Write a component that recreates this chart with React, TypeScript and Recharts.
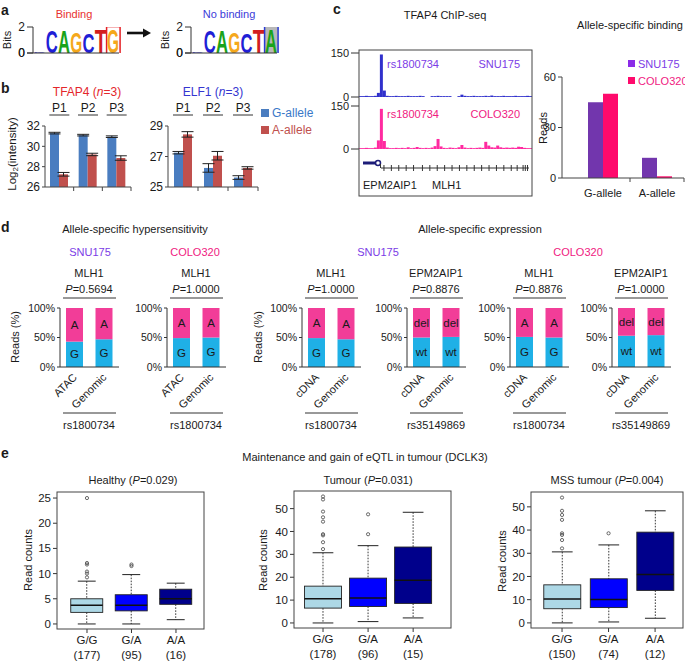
import React from 'react';
import { BarChart, Bar, XAxis, YAxis, ErrorBar, ComposedChart, Scatter, LabelList } from 'recharts';

const FONT = '"Liberation Sans", Arial, Helvetica, sans-serif';
const INK = '#1a1a1a';

// ---------- Panel a : sequence logos
const logoBindingLetters = ['C', 'C', 'A', 'G', 'C', 'T', 'G'];
const logoBindingBits = [0.1, 1.75, 1.72, 1.6, 1.5, 1.82, 1.8];
const logoNoBindingLetters = ['C', 'C', 'A', 'G', 'C', 'T', 'A'];
const logoNoBindingBits = [0.1, 1.75, 1.72, 1.6, 1.48, 1.82, 1.85];
const logoBitTicks = [0, 2];

// ---------- Panel b : probe intensities
const probeNames = ['P1', 'P2', 'P3'];
const tfap4G = [31.3, 31.1, 30.95];
const tfap4GErr = [0.08, 0.08, 0.08];
const tfap4A = [27.25, 29.2, 28.85];
const tfap4AErr = [0.18, 0.12, 0.22];
const elf1G = [27.25, 26.25, 25.62];
const elf1GErr = [0.08, 0.28, 0.12];
const elf1A = [28.45, 27.05, 26.25];
const elf1AErr = [0.18, 0.28, 0.08];
const tfap4Ticks = [26, 28, 30, 32];
const elf1Ticks = [25, 27, 29];

// ---------- Panel c : ChIP-seq tracks and allele-specific binding
const chipSnu175 = [3, 3, 4, 3, 3, 4, 14, 145, 22, 4, 3, 3, 4, 3, 3, 3, 4, 3, 3, 3, 4, 3, 0, 0, 3, 3, 4, 3, 3, 3, 3, 0, 0, 3, 8, 4, 3, 3, 4, 3, 3, 3, 4, 3, 5, 3, 3, 3, 4, 3, 3, 3, 4, 3, 3, 3, 4, 3];
const chipColo320 = [3, 3, 4, 3, 3, 5, 30, 140, 28, 5, 3, 3, 4, 3, 4, 3, 6, 3, 4, 7, 4, 3, 4, 3, 5, 10, 35, 9, 4, 3, 5, 4, 3, 6, 14, 5, 3, 4, 3, 4, 5, 4, 25, 12, 6, 5, 12, 6, 4, 5, 4, 5, 4, 8, 7, 4, 3, 3];
const chipTicks = [0, 150];
const mlh1Exons = [0.02, 0.07, 0.12, 0.17, 0.22, 0.28, 0.33, 0.38, 0.43, 0.48, 0.53, 0.58, 0.63, 0.68, 0.73, 0.78, 0.83, 0.88, 0.92, 0.96, 0.975, 0.99];
const asbAlleles = ['G-allele', 'A-allele'];
const asbSnu175 = [45, 12];
const asbColo320 = [50, 1];
const asbTicks = [0, 30, 60];

// ---------- Panel d : allele-specific hypersensitivity / expression
const dGenes = ['MLH1', 'MLH1', 'MLH1', 'EPM2AIP1', 'MLH1', 'EPM2AIP1'];
const dPvals = ['0.5694', '1.0000', '1.0000', '0.8876', '0.8876', '1.0000'];
const dSamples = [['ATAC', 'Genomic'], ['ATAC', 'Genomic'], ['cDNA', 'Genomic'], ['cDNA', 'Genomic'], ['cDNA', 'Genomic'], ['cDNA', 'Genomic']];
const dLowerPct = [[43, 47], [49, 50], [49, 47], [50, 51], [51, 50], [53, 54]];
const dLowerLabel = ['G', 'G', 'G', 'wt', 'G', 'wt'];
const dUpperLabel = ['A', 'A', 'A', 'del', 'A', 'del'];
const dSnps = ['rs1800734', 'rs1800734', 'rs1800734', 'rs35149869', 'rs1800734', 'rs35149869'];
const dPctTicks = [0, 50, 100];

// ---------- Panel e : eQTL boxplots
const genotypes = ['G/G', 'G/A', 'A/A'];
const healthyN = [177, 95, 16];
const healthyStats = [[0, 2.3, 3.7, 5.0, 8.5], [0, 2.6, 3.7, 5.8, 9.8], [0.85, 3.9, 5.0, 6.9, 8.1]];
const healthyOutliers = [[9.25, 10.0, 10.4, 11.8, 12.1, 25.0], [11.5, 11.8], []];
const healthyTicks = [0, 5, 10, 15, 20, 25];
const tumourN = [178, 96, 15];
const tumourStats = [[0, 6.5, 10.6, 16.1, 30.7], [0.6, 7.2, 10.9, 19.6, 33.8], [2.2, 8.55, 18.7, 33.2, 48.4]];
const tumourOutliers = [[32.3, 35.3, 38.3, 38.8, 44.3, 46.2, 48.7, 54.0, 55.3], [38.8, 47.5], []];
const mssN = [150, 74, 12];
const mssStats = [[0, 6.1, 10.3, 16.4, 30.6], [0.4, 6.6, 10.1, 19.0, 33.6], [2.0, 14.0, 20.9, 39.1, 48.3]];
const mssOutliers = [[32.1, 35.7, 37.9, 38.6, 44.4, 46.5, 48.3, 54.0], [38.6], []];
const tumourTicks = [0, 10, 20, 30, 40, 50];

// ---------- colours
const LETTER_COLORS: Record<string, string> = { A: '#1aa31a', C: '#1f1fd6', G: '#f5a81c', T: '#d21f1f' };
const B_BLUE = '#4a7dc0';
const B_RED = '#c0504d';
const SNU_TXT = '#7b3ce6';
const SNU_BAR = '#7236ad';
const COLO_TXT = '#f0207f';
const COLO_BAR = '#ff0a6c';
const TRACK1 = '#3030cc';
const TRACK2 = '#ff2aa0';
const CYAN = '#1fb0e6';
const PINK = '#f23d98';
const BOX_COLORS = ['#add8e6', '#0000ff', '#00008b'];

// ---------- layout helper
const PAD = 4;
function frame(px: number, py: number, pw: number, ph: number, yw: number, xh: number, padTop: number = PAD) {
  return {
    style: { position: 'absolute', left: px - yw - PAD, top: py - padTop } as React.CSSProperties,
    width: pw + yw + 2 * PAD,
    height: ph + xh + padTop + PAD,
    margin: { top: padTop, right: PAD, bottom: PAD, left: PAD },
  };
}

const Txt = ({ x, y, children, anchor = 'middle', size = 11, color = INK, weight = 'normal', rotate = 0 }: any) => (
  <text x={x} y={y} textAnchor={anchor} dominantBaseline="central" fontSize={size} fill={color}
    fontWeight={weight} fontFamily={FONT} transform={rotate ? `rotate(${rotate} ${x} ${y})` : undefined}>
    {children}
  </text>
);

// ---------- Panel a
const LOGO_TOP = 27;
const LOGO_H = 26;
const LOGO_X = [33, 191];

const LetterShape = (props: any) => {
  const { x, y, width, height, payload, boxFill, boxStroke } = props;
  const fs = Math.max(height, 0.5) / 0.72;
  return (
    <g>
      {payload.hl && (
        <rect x={x - 0.5} y={y - 3} width={width + 1.5} height={height + 4} fill={boxFill} stroke={boxStroke} strokeWidth={1.5} />
      )}
      <text x={x} y={y + height} fontSize={fs} textLength={width} lengthAdjust="spacingAndGlyphs"
        fill={LETTER_COLORS[payload.letter]} fontFamily={FONT} fontWeight="bold">{payload.letter}</text>
    </g>
  );
};

const BitsTick = (p: any) => (
  <text x={p.x} y={p.y} textAnchor="end" dominantBaseline="central" fontSize={12} fill={INK} fontFamily={FONT}>
    {String(p.payload.value)}
  </text>
);

function Logo({ letters, bits, px, boxFill, boxStroke }: any) {
  const data = letters.map((l: string, i: number) => ({ letter: l, bits: bits[i], hl: i === letters.length - 1 }));
  const f = frame(px, LOGO_TOP, 86, LOGO_H, 26, 10, 12);
  return (
    <div style={f.style}>
      <BarChart width={f.width} height={f.height} margin={f.margin} data={data} barCategoryGap="3%">
        <XAxis dataKey="letter" tick={false} tickLine={false} height={10} axisLine={{ stroke: '#333' }} />
        <YAxis type="number" domain={[0, 2]} ticks={logoBitTicks} interval={0} allowDataOverflow width={26} tickSize={6} tickMargin={2}
          tick={BitsTick} axisLine={{ stroke: '#333' }} tickLine={{ stroke: '#333' }} />
        <Bar dataKey="bits" isAnimationActive={false}
          shape={(p: any) => <LetterShape {...p} boxFill={boxFill} boxStroke={boxStroke} />} />
      </BarChart>
    </div>
  );
}

// ---------- Panel b
const B_TOP = 126;
const B_H = 61;
const B1 = { px: 45, pw: 86 };
const B2 = { px: 168, pw: 90 };

function ProbeChart({ g, gErr, a, aErr, ticks, px, pw }: any) {
  const data = probeNames.map((n, i) => ({ name: n, g: g[i], gErr: gErr[i], a: a[i], aErr: aErr[i] }));
  const f = frame(px, B_TOP, pw, B_H, 30, 6, 8);
  const step = pw / probeNames.length;
  return (
    <div style={f.style}>
      <BarChart width={f.width} height={f.height} margin={f.margin} data={data} barGap={0} barSize={9}>
        <XAxis dataKey="name" interval={0} tickLine={false} tickSize={0} tickMargin={0} height={6}
          axisLine={{ stroke: '#444' }}
          tick={(p: any) => <line x1={p.x + step / 2} x2={p.x + step / 2} y1={p.y} y2={p.y + 4} stroke="#444" />} />
        <YAxis domain={[ticks[0], ticks[ticks.length - 1]]} ticks={ticks} interval={0} allowDataOverflow width={30}
          tickSize={3} tickMargin={2} tick={{ fontSize: 12, fill: INK }} axisLine={{ stroke: '#444' }} tickLine={{ stroke: '#444' }} />
        <Bar dataKey="g" fill={B_BLUE} isAnimationActive={false}>
          <ErrorBar dataKey="gErr" width={6} stroke="#222" strokeWidth={1} />
        </Bar>
        <Bar dataKey="a" fill={B_RED} isAnimationActive={false}>
          <ErrorBar dataKey="aErr" width={6} stroke="#222" strokeWidth={1} />
        </Bar>
      </BarChart>
    </div>
  );
}

// ---------- Panel c
const CHIP_X = 359;
const CHIP_W = 173;

function ChipTrack({ values, color, py, ph }: any) {
  const data = values.map((v: number, i: number) => ({ bin: i, v }));
  const f = frame(CHIP_X, py, CHIP_W, ph, 32, 0, 8);
  return (
    <div style={f.style}>
      <BarChart width={f.width} height={f.height} margin={f.margin} data={data} barCategoryGap={0}>
        <XAxis dataKey="bin" hide />
        <YAxis domain={[0, 150]} ticks={chipTicks} interval={0} allowDataOverflow width={32} tickSize={8} tickMargin={2}
          axisLine={false} tickLine={{ stroke: '#333' }} tick={{ fontSize: 11, fill: INK }} />
        <Bar dataKey="v" fill={color} isAnimationActive={false} />
      </BarChart>
    </div>
  );
}

const ASB = { px: 562, py: 77, pw: 122, ph: 101, padL: 14 };

function AsbChart() {
  const data = asbAlleles.map((n, i) => ({ name: n, snu: asbSnu175[i], colo: asbColo320[i] }));
  const f = frame(ASB.px, ASB.py, ASB.pw, ASB.ph, 30, 24, 8);
  const step = (ASB.pw - ASB.padL) / asbAlleles.length;
  return (
    <div style={f.style}>
      <BarChart width={f.width} height={f.height} margin={f.margin} data={data} barGap={0} barSize={15}>
        <XAxis dataKey="name" interval={0} padding={{ left: ASB.padL, right: 0 }} tickLine={false} tickSize={0} tickMargin={0}
          height={24} axisLine={{ stroke: '#444' }}
          tick={(p: any) => (
            <g>
              <line x1={p.x + step / 2} x2={p.x + step / 2} y1={p.y} y2={p.y + 4} stroke="#444" />
              <text x={p.x} y={p.y + 15} textAnchor="middle" dominantBaseline="central" fontSize={11} fill={INK} fontFamily={FONT}>{p.payload.value}</text>
            </g>
          )} />
        <YAxis domain={[0, 60]} ticks={asbTicks} interval={0} width={30} tickSize={4} tickMargin={2}
          tick={{ fontSize: 11, fill: INK }} axisLine={{ stroke: '#444' }} tickLine={{ stroke: '#444' }} />
        <Bar dataKey="snu" fill={SNU_BAR} isAnimationActive={false} />
        <Bar dataKey="colo" fill={COLO_BAR} isAnimationActive={false} />
      </BarChart>
    </div>
  );
}

// ---------- Panel d
const D_AXIS_X = [60, 167, 302, 407, 510, 612];
const D_TOP = 308;
const D_H = 59;
const D_W = 59;

const RotTick = (p: any) => {
  const ax = p.x + 3;
  const ay = p.y + 11;
  return (
    <text x={ax} y={ay} transform={`rotate(-45 ${ax} ${ay})`} textAnchor="end" fontSize={11} fill={INK} fontFamily={FONT}>
      {p.payload.value}
    </text>
  );
};

function AlleleChart({ i }: { i: number }) {
  const data = dSamples[i].map((s, j) => ({
    s, lo: dLowerPct[i][j], hi: 100 - dLowerPct[i][j], loLab: dLowerLabel[i], hiLab: dUpperLabel[i],
  }));
  const f = frame(D_AXIS_X[i], D_TOP, D_W, D_H, 38, 45, 8);
  return (
    <div style={f.style}>
      <BarChart width={f.width} height={f.height} margin={f.margin} data={data} barSize={17}>
        <XAxis dataKey="s" interval={0} tickLine={false} tickSize={0} tickMargin={0} height={45}
          axisLine={{ stroke: '#333' }} tick={RotTick} />
        <YAxis domain={[0, 100]} ticks={dPctTicks} interval={0} tickFormatter={(v: number) => `${v}%`} width={38}
          tickSize={3} tickMargin={2} tick={{ fontSize: 10.5, fill: INK }} axisLine={{ stroke: '#333' }} tickLine={{ stroke: '#333' }} />
        <Bar dataKey="lo" stackId="s" fill={CYAN} isAnimationActive={false}>
          <LabelList dataKey="loLab" position="center" fill={INK} fontSize={11.5} />
        </Bar>
        <Bar dataKey="hi" stackId="s" fill={PINK} isAnimationActive={false}>
          <LabelList dataKey="hiLab" position="center" fill={INK} fontSize={11.5} />
        </Bar>
      </BarChart>
    </div>
  );
}

// ---------- Panel e
const BoxShape = (props: any) => {
  const { x, y, width, height, payload } = props;
  const [lo, q1, med, q3, hi] = payload.stats;
  const pos = (v: number) => y + ((hi - v) / (hi - lo)) * height;
  const cx = x + width / 2;
  const cap = width * 0.28;
  return (
    <g>
      <line x1={cx} x2={cx} y1={pos(hi)} y2={pos(q3)} stroke="#222" strokeWidth={0.9} strokeDasharray="1.6 1.4" />
      <line x1={cx} x2={cx} y1={pos(q1)} y2={pos(lo)} stroke="#222" strokeWidth={0.9} strokeDasharray="1.6 1.4" />
      <line x1={cx - cap} x2={cx + cap} y1={pos(hi)} y2={pos(hi)} stroke="#222" strokeWidth={1} />
      <line x1={cx - cap} x2={cx + cap} y1={pos(lo)} y2={pos(lo)} stroke="#222" strokeWidth={1} />
      <rect x={x} y={pos(q3)} width={width} height={pos(q1) - pos(q3)} fill={payload.fill} stroke="#222" strokeWidth={0.9} />
      <line x1={x} x2={x + width} y1={pos(med)} y2={pos(med)} stroke="#111" strokeWidth={1.5} />
    </g>
  );
};

const OutlierShape = (p: any) => <circle cx={p.cx} cy={p.cy} r={1.6} fill="none" stroke="#444" strokeWidth={0.8} />;

const E_PLOTS = [
  { px: 57, py: 492, pw: 147, ph: 137, yDom: [-1.0, 26.2], xDom: [0.326, 3.63], box: 32 },
  { px: 294, py: 491, pw: 157, ph: 137, yDom: [-2.2, 57.7], xDom: [0.356, 3.84], box: 37 },
  { px: 531, py: 492, pw: 152, ph: 136, yDom: [-2.2, 56.4], xDom: [0.333, 3.6], box: 37 },
];

function BoxPlot({ k, stats, outliers, ns, ticks }: any) {
  const L = E_PLOTS[k];
  const data = genotypes.map((g, i) => ({ x: i + 1, range: [stats[i][0], stats[i][4]], stats: stats[i], fill: BOX_COLORS[i] }));
  const pts = outliers.flatMap((arr: number[], i: number) => arr.map((v) => ({ x: i + 1, y: v })));
  const f = frame(L.px, L.py, L.pw, L.ph, 30, 34, 4);
  return (
    <div style={f.style}>
      <ComposedChart width={f.width} height={f.height} margin={f.margin} data={data}>
        <XAxis type="number" dataKey="x" domain={L.xDom} ticks={[1, 2, 3]} interval={0} allowDataOverflow axisLine={false}
          tickLine={{ stroke: '#333' }} tickSize={4} tickMargin={0} height={34}
          tick={(p: any) => (
            <g>
              <text x={p.x} y={p.y + 7} textAnchor="middle" dominantBaseline="central" fontSize={11.5} fill={INK} fontFamily={FONT}>{genotypes[p.payload.value - 1]}</text>
              <text x={p.x} y={p.y + 22} textAnchor="middle" dominantBaseline="central" fontSize={11.5} fill={INK} fontFamily={FONT}>({ns[p.payload.value - 1]})</text>
            </g>
          )} />
        <YAxis type="number" domain={L.yDom} ticks={ticks} interval={0} allowDataOverflow axisLine={false} tickSize={4} tickMargin={2}
          width={30} tick={{ fontSize: 11.5, fill: INK }} tickLine={{ stroke: '#333' }} />
        <Bar dataKey="range" barSize={L.box} isAnimationActive={false} shape={BoxShape} />
        <Scatter data={pts} dataKey="y" isAnimationActive={false} shape={OutlierShape} />
      </ComposedChart>
    </div>
  );
}

// ---------- overlay texts
function Overlay() {
  const bCenters = (c: { px: number; pw: number }) => probeNames.map((_, i) => c.px + ((i + 0.5) * c.pw) / probeNames.length);
  const exonY = 168;
  const mlhX0 = 381;
  const mlhX1 = 529;
  const logoBase = LOGO_TOP + LOGO_H;
  return (
    <svg width={685} height={661} style={{ position: 'absolute', left: 0, top: 0, pointerEvents: 'none' }}>
      {/* panel letters */}
      <Txt x={1} y={10} anchor="start" size={14} weight="bold">a</Txt>
      <Txt x={1} y={88} anchor="start" size={14} weight="bold">b</Txt>
      <Txt x={333} y={9} anchor="start" size={14} weight="bold">c</Txt>
      <Txt x={1} y={227} anchor="start" size={14} weight="bold">d</Txt>
      <Txt x={1} y={453} anchor="start" size={14} weight="bold">e</Txt>

      {/* panel a */}
      <Txt x={74} y={14} color="#e8312f">Binding</Txt>
      <Txt x={229} y={14} color="#3b3bd9">No binding</Txt>
      <Txt x={7} y={40} rotate={-90}>Bits</Txt>
      <Txt x={165} y={40} rotate={-90}>Bits</Txt>
      {LOGO_X.map((lx, i) => (
        <g key={`lz${i}`}>
          <line x1={lx - 6} x2={lx} y1={logoBase} y2={logoBase} stroke="#333" strokeWidth={1} />
          <Txt x={lx - 8} y={logoBase} anchor="end" size={12}>0</Txt>
        </g>
      ))}
      <line x1={127} x2={144} y1={33} y2={33} stroke="#111" strokeWidth={2.6} />
      <polygon points="143,28.5 151,33 143,37.5" fill="#111" />

      {/* panel b */}
      <text x={87} y={92} textAnchor="middle" dominantBaseline="central" fontSize={12} fill="#e4262b" fontFamily={FONT}>
        TFAP4 (<tspan fontStyle="italic">n</tspan>=3)
      </text>
      <text x={213} y={92} textAnchor="middle" dominantBaseline="central" fontSize={12} fill="#3535d0" fontFamily={FONT}>
        ELF1 (<tspan fontStyle="italic">n</tspan>=3)
      </text>
      {[...bCenters(B1), ...bCenters(B2)].map((cx, i) => (
        <g key={`p${i}`}>
          <Txt x={cx} y={108} size={12}>{probeNames[i % 3]}</Txt>
          <line x1={cx - 10} x2={cx + 10} y1={115} y2={115} stroke="#333" strokeWidth={1} />
        </g>
      ))}
      <text x={12} y={154} textAnchor="middle" dominantBaseline="central" fontSize={11.5} fill={INK} fontFamily={FONT}
        transform="rotate(-90 12 154)">
        Log<tspan fontSize={8} dy={3}>2</tspan><tspan dy={-3}>(intensity)</tspan>
      </text>
      <rect x={261} y={109} width={8} height={8} fill={B_BLUE} />
      <Txt x={272} y={113} anchor="start" size={12} color="#3a78c8">G-allele</Txt>
      <rect x={261} y={126} width={8} height={8} fill={B_RED} />
      <Txt x={272} y={130} anchor="start" size={12} color={B_RED}>A-allele</Txt>

      {/* panel c */}
      <Txt x={445} y={15}>TFAP4 ChIP-seq</Txt>
      <Txt x={630} y={25}>Allele-specific binding</Txt>
      <rect x={CHIP_X} y={50} width={CHIP_W} height={146} fill="none" stroke="#444" strokeWidth={1} />
      <Txt x={387} y={64} anchor="start" color={SNU_TXT}>rs1800734</Txt>
      <Txt x={520} y={64} anchor="end" color={SNU_TXT}>SNU175</Txt>
      <Txt x={387} y={114} anchor="start" color={COLO_TXT}>rs1800734</Txt>
      <Txt x={520} y={114} anchor="end" color={COLO_TXT}>COLO320</Txt>
      <line x1={363} x2={375.5} y1={163} y2={163} stroke="#1c1c78" strokeWidth={3} />
      <circle cx={378} cy={163} r={2.5} fill="#fff" stroke="#1c1c78" strokeWidth={1.5} />
      <line x1={380.5} x2={380.5} y1={164} y2={exonY} stroke="#333" strokeWidth={1} />
      <line x1={mlhX0} x2={mlhX1} y1={exonY} y2={exonY} stroke="#333" strokeWidth={1} />
      {mlh1Exons.map((t, i) => {
        const ex = mlhX0 + t * (mlhX1 - mlhX0);
        return <line key={`ex${i}`} x1={ex} x2={ex} y1={exonY - 3} y2={exonY + 3} stroke="#333" strokeWidth={1} />;
      })}
      <Txt x={363} y={185} anchor="start">EPM2AIP1</Txt>
      <Txt x={432} y={185} anchor="start">MLH1</Txt>
      <Txt x={543} y={128} rotate={-90}>Reads</Txt>
      <rect x={628} y={60} width={7} height={7} fill="#8b2be8" />
      <Txt x={638} y={63.5} anchor="start" color={SNU_TXT}>SNU175</Txt>
      <rect x={628} y={77} width={7} height={7} fill={COLO_BAR} />
      <Txt x={638} y={80.5} anchor="start" color={COLO_TXT}>COLO320</Txt>

      {/* panel d */}
      <Txt x={135} y={229}>Allele-specific hypersensitivity</Txt>
      <Txt x={480} y={229}>Allele-specific expression</Txt>
      <Txt x={90} y={252} color={SNU_TXT}>SNU175</Txt>
      <Txt x={195} y={252} color={COLO_TXT}>COLO320</Txt>
      <Txt x={378} y={252} color={SNU_TXT}>SNU175</Txt>
      <Txt x={578} y={252} color={COLO_TXT}>COLO320</Txt>
      {D_AXIS_X.map((ax, i) => (
        <g key={`d${i}`}>
          <Txt x={ax + 29} y={273}>{dGenes[i]}</Txt>
          <text x={ax + 29} y={289} textAnchor="middle" dominantBaseline="central" fontSize={11} fill={INK} fontFamily={FONT}>
            <tspan fontStyle="italic">P</tspan>={dPvals[i]}
          </text>
          <line x1={ax + 3} x2={ax + 56} y1={298} y2={298} stroke="#333" strokeWidth={1} />
          <line x1={ax + 3} x2={ax + 56} y1={413} y2={413} stroke="#333" strokeWidth={1} />
          <Txt x={ax + 29} y={425}>{dSnps[i]}</Txt>
        </g>
      ))}
      <Txt x={15} y={337} rotate={-90}>Reads (%)</Txt>
      <Txt x={258} y={337} rotate={-90}>Reads (%)</Txt>

      {/* panel e */}
      <Txt x={365} y={457}>Maintenance and gain of eQTL in tumour (DCLK3)</Txt>
      <text x={133} y={480} textAnchor="middle" dominantBaseline="central" fontSize={11} fill={INK} fontFamily={FONT}>
        Healthy (<tspan fontStyle="italic">P</tspan>=0.029)
      </text>
      <text x={368} y={480} textAnchor="middle" dominantBaseline="central" fontSize={11} fill={INK} fontFamily={FONT}>
        Tumour (<tspan fontStyle="italic">P</tspan>=0.031)
      </text>
      <text x={607} y={480} textAnchor="middle" dominantBaseline="central" fontSize={11} fill={INK} fontFamily={FONT}>
        MSS tumour (<tspan fontStyle="italic">P</tspan>=0.004)
      </text>
      <Txt x={28} y={560} rotate={-90}>Read counts</Txt>
      <Txt x={263} y={560} rotate={-90}>Read counts</Txt>
      <Txt x={502} y={561} rotate={-90}>Read counts</Txt>
      {E_PLOTS.map((L, i) => (
        <rect key={`fr${i}`} x={L.px} y={L.py} width={L.pw} height={L.ph} fill="none" stroke="#444" strokeWidth={1} />
      ))}
    </svg>
  );
}

export default function App() {
  return (
    <div style={{ position: 'absolute', left: 0, top: 0, width: 685, height: 661, background: '#fff', fontFamily: FONT, overflow: 'hidden' }}>
      <Logo letters={logoBindingLetters} bits={logoBindingBits} px={LOGO_X[0]} boxFill="none" boxStroke="#e42025" />
      <Logo letters={logoNoBindingLetters} bits={logoNoBindingBits} px={LOGO_X[1]} boxFill="#b8b8b8" boxStroke="#2b3bd6" />

      <ProbeChart g={tfap4G} gErr={tfap4GErr} a={tfap4A} aErr={tfap4AErr} ticks={tfap4Ticks} px={B1.px} pw={B1.pw} />
      <ProbeChart g={elf1G} gErr={elf1GErr} a={elf1A} aErr={elf1AErr} ticks={elf1Ticks} px={B2.px} pw={B2.pw} />

      <ChipTrack values={chipSnu175} color={TRACK1} py={53} ph={44} />
      <ChipTrack values={chipColo320} color={TRACK2} py={106} ph={43} />
      <AsbChart />

      {D_AXIS_X.map((_, i) => <AlleleChart key={i} i={i} />)}

      <BoxPlot k={0} stats={healthyStats} outliers={healthyOutliers} ns={healthyN} ticks={healthyTicks} />
      <BoxPlot k={1} stats={tumourStats} outliers={tumourOutliers} ns={tumourN} ticks={tumourTicks} />
      <BoxPlot k={2} stats={mssStats} outliers={mssOutliers} ns={mssN} ticks={tumourTicks} />

      <Overlay />
    </div>
  );
}
